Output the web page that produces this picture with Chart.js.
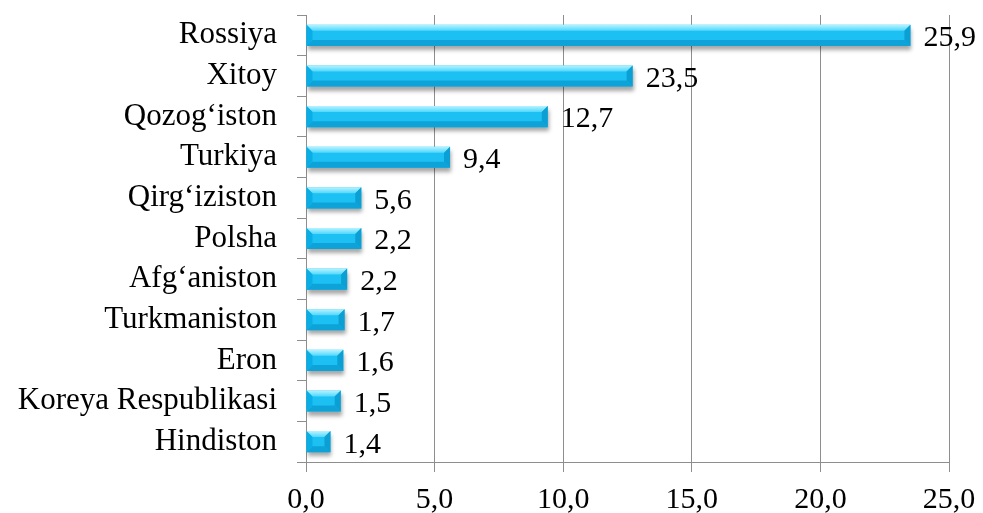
<!DOCTYPE html>
<html>
<head>
<meta charset="utf-8">
<script src="https://cdn.jsdelivr.net/npm/chart.js@4/dist/chart.umd.min.js"></script>
<style>
  html, body { margin: 0; padding: 0; background: #fff; }
  #wrap { width: 983px; height: 513px; }
</style>
</head>
<body>
<div id="wrap"><canvas id="chart"></canvas></div>
<script>
"use strict";
// countries, top to bottom
const countries = ["Rossiya", "Xitoy", "Qozog\u2018iston", "Turkiya", "Qirg\u2018iziston", "Polsha",
  "Afg\u2018aniston", "Turkmaniston", "Eron", "Koreya Respublikasi", "Hindiston"];
// bar lengths as drawn in the picture
const barValues = [23.5, 12.7, 9.4, 5.6, 2.15, 2.15, 1.6, 1.5, 1.45, 1.35, 0.95];
// value labels printed next to the bars
const valueLabels = ["25,9", "23,5", "12,7", "9,4", "5,6", "2,2", "2,2", "1,7", "1,6", "1,5", "1,4"];
// x axis
const xMin = 0, xMax = 25, xStep = 5;

const FONT = "'Liberation Serif', 'Times New Roman', serif";
const GRID = "#8e8e8e";

const bevelPlugin = {
  id: "bevel",
  beforeDatasetDraw(chart) {
    const ctx = chart.ctx;
    ctx.save();
    ctx.shadowColor = "rgba(0,0,0,0.35)";
    ctx.shadowBlur = 4;
    ctx.shadowOffsetX = 1;
    ctx.shadowOffsetY = 4;
  },
  afterDatasetDraw(chart) {
    const ctx = chart.ctx;
    ctx.restore();
    const meta = chart.getDatasetMeta(0);
    meta.data.forEach((bar, i) => {
      const L = Math.min(bar.base, bar.x), R = Math.max(bar.base, bar.x);
      const T = bar.y - bar.height / 2, B = bar.y + bar.height / 2;
      const b = Math.min(6, (R - L) / 2, (B - T) / 2);
      const poly = (pts, fill) => {
        ctx.beginPath();
        ctx.moveTo(pts[0][0], pts[0][1]);
        for (let k = 1; k < pts.length; k++) ctx.lineTo(pts[k][0], pts[k][1]);
        ctx.closePath();
        ctx.fillStyle = fill;
        ctx.fill();
      };
      ctx.save();
      const top = ctx.createLinearGradient(0, T, 0, T + b);
      top.addColorStop(0, "#b8f3ff");
      top.addColorStop(1, "#4fd8ff");
      poly([[L, T], [R, T], [R - b, T + b], [L + b, T + b]], top);
      poly([[L, B], [R, B], [R - b, B - b], [L + b, B - b]], "#0ea3d8");
      poly([[L, T], [L + b, T + b], [L + b, B - b], [L, B]], "#0aaee6");
      poly([[R, T], [R - b, T + b], [R - b, B - b], [R, B]], "#0b9fd4");
      ctx.restore();
      // value label
      ctx.save();
      ctx.font = "30px " + FONT;
      ctx.fillStyle = "#000";
      ctx.textAlign = "left";
      ctx.textBaseline = "middle";
      ctx.fillText(valueLabels[i], R + 13, bar.y + 3);
      ctx.restore();
    });
  }
};

const ctx = document.getElementById("chart");
new Chart(ctx, {
  type: "bar",
  data: {
    labels: countries,
    datasets: [{
      data: barValues,
      borderWidth: 0,
      barPercentage: 0.52,
      categoryPercentage: 1,
      backgroundColor: (c) => {
        const area = c.chart.chartArea;
        const el = c.element;
        if (!area || !el || el.y === undefined) return "#1cc0f2";
        const g = c.chart.ctx.createLinearGradient(0, el.y - el.height / 2, 0, el.y + el.height / 2);
        g.addColorStop(0, "#5fdcff");
        g.addColorStop(0.45, "#22c6f7");
        g.addColorStop(1, "#06b2ee");
        return g;
      }
    }]
  },
  options: {
    indexAxis: "y",
    responsive: true,
    maintainAspectRatio: false,
    animation: false,
    layout: { padding: { top: 15, right: 34, left: 0, bottom: 0 } },
    plugins: { legend: { display: false }, tooltip: { enabled: false } },
    scales: {
      x: {
        min: xMin,
        max: xMax,
        afterFit: (s) => { s.height = 51; s.paddingLeft = 0; s.paddingRight = 0; },
        ticks: {
          stepSize: xStep,
          color: "#000",
          font: { family: FONT, size: 30 },
          padding: 10,
          maxRotation: 0,
          callback: (v) => v.toFixed(1).replace(".", ",")
        },
        grid: { color: GRID, lineWidth: 1, tickLength: 10, drawTicks: true },
        border: { color: GRID, width: 1 }
      },
      y: {
        afterFit: (s) => { s.width = 306; s.paddingTop = 0; s.paddingBottom = 0; },
        ticks: {
          color: "#000",
          font: { family: FONT, size: 31 },
          padding: 20,
          autoSkip: false
        },
        grid: { drawOnChartArea: false, color: GRID, tickLength: 9, offset: true },
        border: { color: GRID, width: 1 }
      }
    }
  },
  plugins: [bevelPlugin]
});
</script>
</body>
</html>
